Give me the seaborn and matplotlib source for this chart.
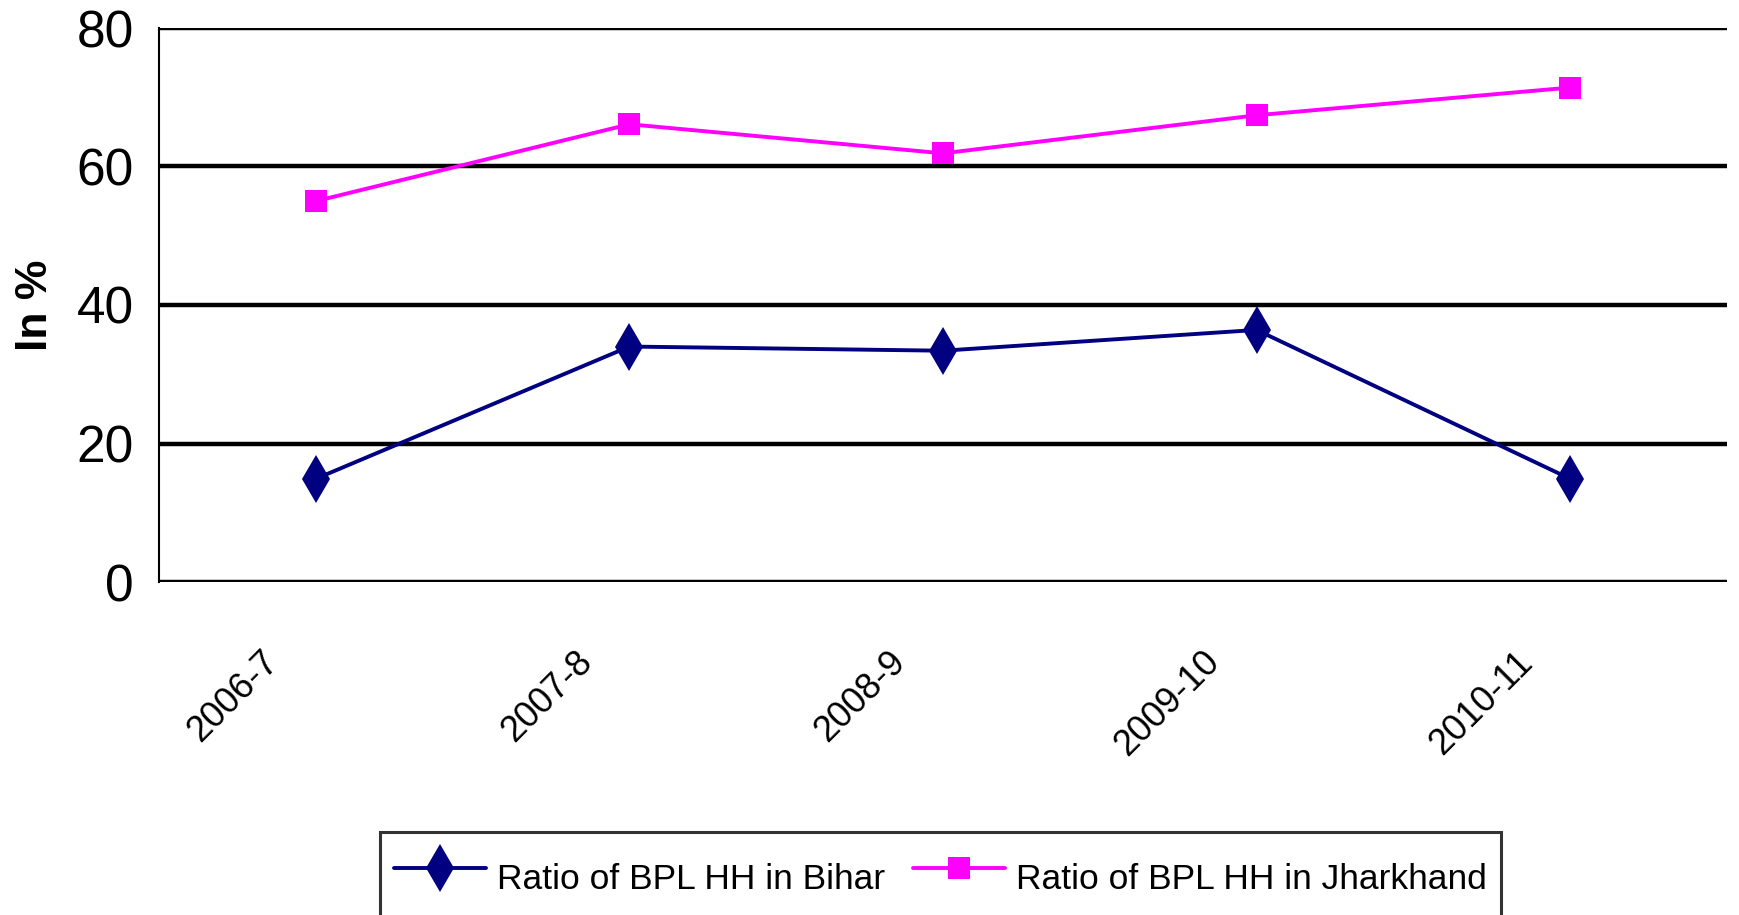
import pandas as pd
import numpy as np
import matplotlib
matplotlib.use('Agg')
import matplotlib.pyplot as plt
from matplotlib import transforms
import seaborn as sns

# Datos
anios = ['2006-7', '2007-8', '2008-9', '2009-10', '2010-11']
bihar = [14.9, 34.0, 33.4, 36.4, 14.9]
jharkhand = [55.0, 66.1, 61.9, 67.4, 71.4]
serie_bihar = 'Ratio of BPL HH in Bihar'
serie_jhar = 'Ratio of BPL HH in Jharkhand'
yticks = [0, 20, 40, 60, 80]

df = pd.DataFrame({
    'anio': anios * 2,
    'valor': bihar + jharkhand,
    'serie': [serie_bihar] * len(anios) + [serie_jhar] * len(anios),
})

sns.set_style('white')
plt.rcParams['font.family'] = ['Liberation Sans', 'DejaVu Sans']
plt.rcParams['text.color'] = 'black'

fig = plt.figure(figsize=(17.39, 9.15), dpi=100)
ax = fig.add_axes([159 / 1739, 1 - 582 / 915, (1727 - 159) / 1739, (582 - 28) / 915])

colores = {serie_bihar: '#000080', serie_jhar: '#FF00FF'}
marcadores = {serie_bihar: 'd', serie_jhar: 's'}

sns.lineplot(data=df, x='anio', y='valor', hue='serie', style='serie',
             palette=colores, markers=marcadores, dashes=False,
             linewidth=2.8, markeredgewidth=0, ax=ax, legend=False, sort=False)

# Ajusto el tamaño de los marcadores por serie
for linea in ax.get_lines():
    if linea.get_marker() == 'd':
        linea.set_markersize(24)
    elif linea.get_marker() == 's':
        linea.set_markersize(16)

# Eje Y con líneas de rejilla gruesas en negro
ax.set_ylim(0, 80)
ax.set_yticks(yticks)
for v in yticks:
    ax.axhline(v, color='black', lw=3.2, zorder=0.5)
ax.tick_params(axis='y', which='major', direction='out', length=12, width=3.2,
               color='black', labelcolor='black', labelsize=37, pad=6)

# Eje X categórico con marcas entre categorías, al estilo Excel
ax.set_xlim(-0.5, len(anios) - 0.5)
ax.set_xticks(np.arange(len(anios)))
ax.set_xticklabels(anios, rotation=45, ha='right', rotation_mode='anchor')
ax.set_xticks(np.arange(-0.5, len(anios)), minor=True)
ax.tick_params(axis='x', which='major', length=0, labelsize=26, pad=45,
               labelcolor='black')
ax.tick_params(axis='x', which='minor', direction='out', length=10, width=1.5,
               color='black')
desplaza = transforms.ScaledTranslation(-55 / 100, 0, fig.dpi_scale_trans)
for etiqueta in ax.get_xticklabels():
    etiqueta.set_transform(etiqueta.get_transform() + desplaza)

for lado in ['top', 'right', 'bottom']:
    ax.spines[lado].set_visible(False)
ax.spines['left'].set_color('black')
ax.spines['left'].set_linewidth(1.5)

ax.set_xlabel('')
ax.set_ylabel('In %', fontsize=32, fontweight='bold', color='black')
ax.yaxis.set_label_coords(-0.066, 0.5)

# Leyenda abajo, recortada por el borde inferior como en el original
h1, = ax.plot([], [], color='#000080', lw=2.8, marker='d', markersize=24, markeredgewidth=0)
h2, = ax.plot([], [], color='#FF00FF', lw=2.8, marker='s', markersize=16, markeredgewidth=0)
leg = fig.legend([h1, h2], [serie_bihar, serie_jhar], loc='upper left',
                 bbox_to_anchor=(380 / 1739, 1 - 832 / 915), ncol=2, fontsize=25.5,
                 frameon=True, fancybox=False, edgecolor='black', borderpad=0.4,
                 borderaxespad=0, handlelength=2.6, handleheight=2.4,
                 handletextpad=0.3, columnspacing=0.8)
leg.get_frame().set_linewidth(2.2)
for t in leg.get_texts():
    t.set_color('black')

fig.savefig('out.png', dpi=100)
